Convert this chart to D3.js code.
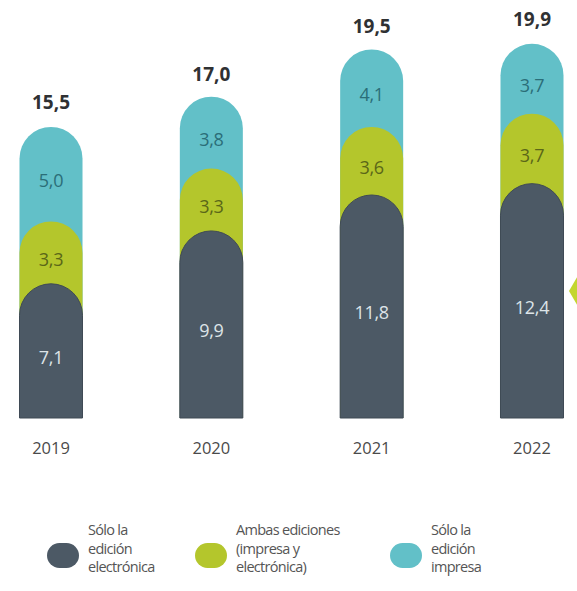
<!DOCTYPE html>
<html>
<head>
<meta charset="utf-8">
<script src="https://cdn.jsdelivr.net/npm/d3@7/dist/d3.min.js"></script>
<style>
  html, body { margin: 0; padding: 0; background: #fff; }
  svg { display: block; font-family: "Open Sans", "Noto Sans", sans-serif; }
</style>
</head>
<body>
<svg id="chart" width="577" height="591"></svg>
<script>
// Suscriptores por tipo de edición (millones)
const years = ["2019", "2020", "2021", "2022"];
const soloElectronica = [7.1, 9.9, 11.8, 12.4];
const ambasEdiciones = [3.3, 3.3, 3.6, 3.7];
const soloImpresa = [5.0, 3.8, 4.1, 3.7];
const totals = [15.5, 17.0, 19.5, 19.9];

const seriesNames = ["Sólo la edición electrónica", "Ambas ediciones (impresa y electrónica)", "Sólo la edición impresa"];
const legendLines = [
  ["Sólo la", "edición", "electrónica"],
  ["Ambas ediciones", "(impresa y", "electrónica)"],
  ["Sólo la", "edición", "impresa"]
];
const colors = ["#4c5965", "#b4c62c", "#62c0c8"];
const labelColors = ["#dde4e8", "#5b6718", "#2b6e78"];

const fmt = v => v.toFixed(1).replace(".", ",");

const svg = d3.select("#chart");
const baseline = 418;

const x = d3.scaleBand()
  .domain(years)
  .range([19.5, 563.5])
  .paddingInner(0.607)
  .paddingOuter(0);

const y = d3.scaleLinear().domain([0, 20]).range([baseline, baseline - 378]);

const seriesValues = [soloElectronica, ambasEdiciones, soloImpresa];
const data = years.map((yr, i) => {
  let acc = 0;
  const segs = seriesValues.map((vals, s) => {
    const y0 = acc; acc += vals[i];
    return { s, y0, y1: acc, v: vals[i] };
  });
  return { yr, i, segs };
});

// Segment with a rounded (half-circle) top and a square bottom
function capsule(x0, w, top, bottom) {
  const r = w / 2;
  return `M${x0},${bottom} L${x0},${top + r} A${r},${r} 0 0 1 ${x0 + w},${top + r} L${x0 + w},${bottom} Z`;
}

const bw = x.bandwidth();

// Arrow at the right edge
svg.append("path")
  .attr("d", "M569,291 L580,272 L580,310 Z")
  .attr("fill", "#c3d630");

const groups = svg.selectAll("g.bar").data(data).join("g").attr("class", "bar");

groups.each(function(d) {
  const g = d3.select(this);
  const x0 = x(d.yr);
  // draw from the topmost segment down so each cap overlaps the one above
  d.segs.slice().reverse().forEach(seg => {
    g.append("path")
      .attr("d", capsule(x0, bw, y(seg.y1), baseline))
      .attr("fill", colors[seg.s])
      .attr("stroke", seg.s === 0 ? "#3f4a55" : "none")
      .attr("stroke-width", seg.s === 0 ? 1 : 0);
  });
  d.segs.forEach(seg => {
    g.append("text")
      .attr("x", x0 + bw / 2)
      .attr("y", (y(seg.y0) + y(seg.y1)) / 2 + 6)
      .attr("text-anchor", "middle")
      .attr("dominant-baseline", "central")
      .attr("font-size", 18)
      .attr("letter-spacing", "-0.3")
      .attr("fill", labelColors[seg.s])
      .text(fmt(seg.v));
  });
  g.append("text")
    .attr("x", x0 + bw / 2)
    .attr("y", y(totals[d.i]) - 23)
    .attr("text-anchor", "middle")
    .attr("dominant-baseline", "central")
    .attr("font-size", 19)
    .attr("font-weight", "bold")
    .attr("fill", "#2f3133")
    .text(fmt(totals[d.i]));
});

// Year axis
const xAxis = d3.axisBottom(x).tickSize(0).tickPadding(0);
const axisG = svg.append("g").attr("transform", `translate(0, ${baseline + 36})`).call(xAxis);
axisG.select(".domain").remove();
axisG.selectAll("text")
  .attr("font-size", 16.5)
  .attr("font-family", "\"Open Sans\", sans-serif")
  .attr("fill", "#4a4a4a")
  .attr("dy", "0");

// Legend
const legendX = [47, 195, 390];
const legend = svg.selectAll("g.legend").data(seriesNames).join("g")
  .attr("class", "legend")
  .attr("transform", (d, i) => `translate(${legendX[i]}, 543)`);
legend.append("rect")
  .attr("width", 32).attr("height", 25).attr("rx", 12.5).attr("ry", 12.5)
  .attr("fill", (d, i) => colors[i]);
legend.each(function(d, i) {
  const t = d3.select(this).append("text")
    .attr("x", 41)
    .attr("y", -8)
    .attr("font-size", 14.5)
    .attr("letter-spacing", "-0.7")
    .attr("fill", "#555");
  legendLines[i].forEach((line, k) => {
    t.append("tspan").attr("x", 41).attr("dy", k === 0 ? 0 : 18.5).text(line);
  });
});
</script>
</body>
</html>
